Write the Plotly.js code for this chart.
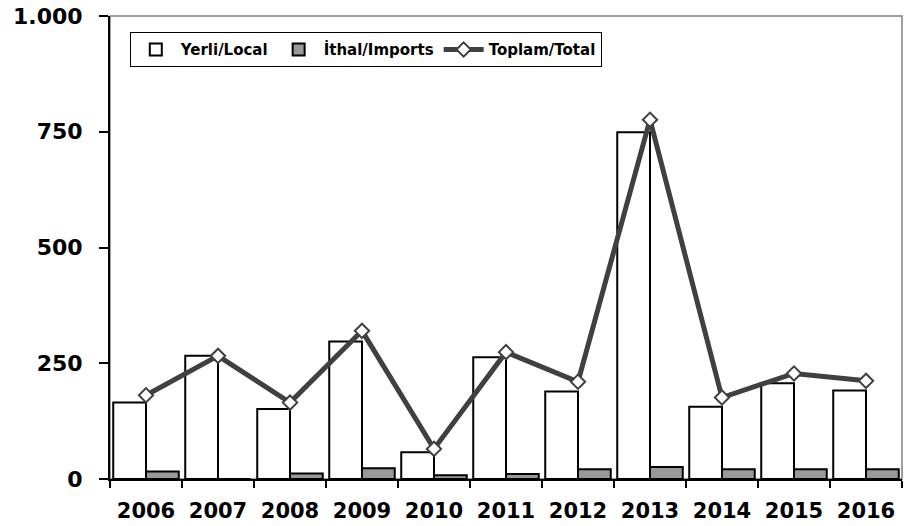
<!DOCTYPE html>
<html>
<head>
<meta charset="utf-8">
<script src="https://cdn.plot.ly/plotly-3.0.1.min.js"></script>
<style>html,body{margin:0;padding:0;background:#fff;}#chart{width:917px;height:526px;}</style>
</head>
<body>
<div id="chart"></div>
<script>
const years = ['2006','2007','2008','2009','2010','2011','2012','2013','2014','2015','2016'];
const local = [165, 266, 151, 297, 58, 263, 189, 749, 156, 207, 191];
const imports = [16, 0, 12, 23, 8, 11, 21, 26, 21, 21, 21];
const total = [181, 266, 165, 320, 65, 274, 210, 776, 176, 228, 212];
const yTicks = [0, 250, 500, 750, 1000];

const font = 'DejaVu Sans, Verdana, sans-serif';

const data = [
  {type:'bar', name:'Yerli/Local', x:years, y:local,
   marker:{color:'#ffffff', line:{color:'#000000', width:2}}},
  {type:'bar', name:'İthal/Imports', x:years, y:imports,
   marker:{color:'#999999', line:{color:'#000000', width:2}}},
  {type:'scatter', mode:'lines+markers', name:'Toplam/Total', x:years, y:total,
   line:{color:'#404040', width:5},
   marker:{symbol:'diamond', size:11, color:'#ffffff', line:{color:'#404040', width:2}}}
];

const layout = {
  width:917, height:526,
  margin:{l:110, r:15, t:16, b:47},
  paper_bgcolor:'#ffffff', plot_bgcolor:'#ffffff',
  separators:',.',
  barmode:'group', bargap:0.09, bargroupgap:0,
  font:{family:font, color:'#000000'},
  showlegend:true,
  legend:{orientation:'h', x:0.025, y:0.965, xanchor:'left', yanchor:'top',
    bordercolor:'#000000', borderwidth:1, bgcolor:'#ffffff',
    font:{family:font, size:15, color:'#000000', weight:'bold'},
    itemwidth:40, traceorder:'normal'},
  xaxis:{type:'category', range:[-0.5, 10.5], tickson:'boundaries', ticks:'outside', ticklen:7, tickwidth:2,
    tickcolor:'#000000', showline:true, linecolor:'#000000', linewidth:2,
    showgrid:false, zeroline:false, automargin:false, ticklabelstandoff:12,
    tickfont:{family:font, size:21, weight:'bold', color:'#000000'}},
  yaxis:{range:[0,1000], tickvals:yTicks, tickformat:',', ticks:'outside', ticklen:9, tickwidth:2,
    tickcolor:'#000000', showline:true, linecolor:'#000000', linewidth:2,
    showgrid:false, zeroline:false, ticklabelstandoff:12, automargin:false,
    tickfont:{family:font, size:22, weight:'bold', color:'#000000'}},
  shapes:[{type:'rect', xref:'paper', yref:'paper', x0:0, x1:1, y0:0, y1:1,
    line:{color:'#808080', width:1.5}, layer:'below'}]
};

Plotly.newPlot('chart', data, layout, {displayModeBar:false, staticPlot:true});
</script>
</body>
</html>
